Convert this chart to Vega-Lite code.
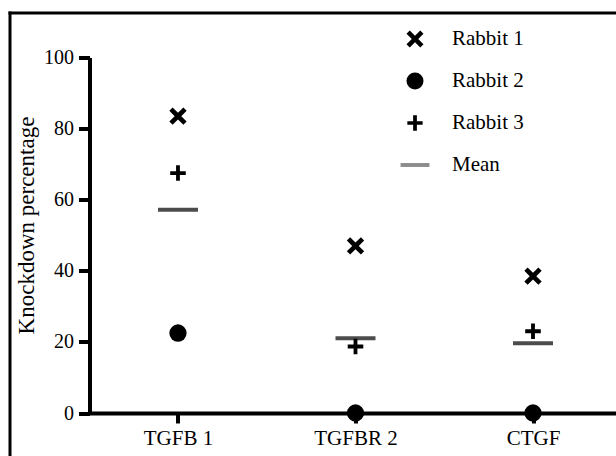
{
  "$schema": "https://vega.github.io/schema/vega-lite/v6.json",
  "width": 606.5,
  "height": 443.5,
  "autosize": {"type": "none"},
  "padding": {"left": 9.5, "top": 12.5, "right": 0, "bottom": 0},
  "background": "white",
  "config": {
    "view": {"stroke": null},
    "font": "Times New Roman, Liberation Serif, serif",
    "axis": {"labelFont": "Times New Roman, Liberation Serif, serif", "titleFont": "Times New Roman, Liberation Serif, serif"},
    "legend": {"labelFont": "Times New Roman, Liberation Serif, serif"}
  },
  "data": {
    "values": [
      {"gene": "TGFB 1", "series": "Rabbit 1", "value": 83.5},
      {"gene": "TGFB 1", "series": "Rabbit 2", "value": 22.5},
      {"gene": "TGFB 1", "series": "Rabbit 3", "value": 67.5},
      {"gene": "TGFB 1", "series": "Mean", "value": 57.2},
      {"gene": "TGFBR 2", "series": "Rabbit 1", "value": 47},
      {"gene": "TGFBR 2", "series": "Rabbit 2", "value": 0},
      {"gene": "TGFBR 2", "series": "Rabbit 3", "value": 18.7},
      {"gene": "TGFBR 2", "series": "Mean", "value": 21},
      {"gene": "CTGF", "series": "Rabbit 1", "value": 38.5},
      {"gene": "CTGF", "series": "Rabbit 2", "value": 0},
      {"gene": "CTGF", "series": "Rabbit 3", "value": 23},
      {"gene": "CTGF", "series": "Mean", "value": 19.6}
    ]
  },
  "layer": [
    {
      "encoding": {
        "x": {
          "field": "gene",
          "type": "nominal",
          "sort": ["TGFB 1", "TGFBR 2", "CTGF"],
          "scale": {"type": "point", "range": [80, 606.5], "padding": 0.483, "align": 0.516},
          "axis": {
            "title": null,
            "orient": "bottom",
            "offset": -43,
            "domainColor": "black",
            "domainWidth": 4,
            "tickColor": "black",
            "tickWidth": 4,
            "tickSize": 10,
            "labelFontSize": 21,
            "labelColor": "black",
            "labelPadding": 4,
            "labelAngle": 0,
            "grid": false
          }
        },
        "y": {
          "field": "value",
          "type": "quantitative",
          "scale": {"domain": [0, 100], "range": [400.5, 45], "nice": false},
          "axis": {
            "orient": "left",
            "offset": -80,
            "values": [0, 20, 40, 60, 80, 100],
            "domainColor": "black",
            "domainWidth": 4,
            "tickColor": "black",
            "tickWidth": 4,
            "tickSize": 11,
            "labelFontSize": 20,
            "labelColor": "black",
            "labelPadding": 5,
            "grid": false,
            "title": "Knockdown percentage",
            "titleFontSize": 23,
            "titleFontWeight": "normal",
            "titleColor": "black",
            "titlePadding": 5,
            "titleY": 212.5
          }
        }
      },
      "layer": [
        {
          "transform": [{"filter": "datum.series !== 'Mean'"}],
          "mark": {"type": "point", "filled": true, "opacity": 1, "size": 300},
          "encoding": {
            "shape": {
              "field": "series",
              "type": "nominal",
              "scale": {
                "domain": ["Rabbit 1", "Rabbit 2", "Rabbit 3", "Mean"],
                "range": [
                  "M-1,-0.62L-0.62,-1L0,-0.38L0.62,-1L1,-0.62L0.38,0L1,0.62L0.62,1L0,0.38L-0.62,1L-1,0.62L-0.38,0Z",
                  "circle",
                  "M-0.22,-0.9H0.22V-0.22H0.9V0.22H0.22V0.9H-0.22V0.22H-0.9V-0.22H-0.22Z",
                  "M-1.7,-0.23H1.7V0.23H-1.7Z"
                ]
              },
              "legend": {
                "title": null,
                "orient": "none",
                "legendX": 395,
                "legendY": 16,
                "symbolSize": 289,
                "symbolOpacity": 1,
                "symbolStrokeWidth": 0,
                "labelFontSize": 21,
                "labelColor": "black",
                "labelOffset": 26.5,
                "rowPadding": 20,
                "padding": 0
              }
            },
            "color": {
              "field": "series",
              "type": "nominal",
              "scale": {
                "domain": ["Rabbit 1", "Rabbit 2", "Rabbit 3", "Mean"],
                "range": ["black", "black", "black", "#8c8c8c"]
              },
              "legend": {
                "title": null,
                "orient": "none",
                "legendX": 395,
                "legendY": 16,
                "symbolSize": 289,
                "symbolOpacity": 1,
                "symbolStrokeWidth": 0,
                "labelFontSize": 21,
                "labelColor": "black",
                "labelOffset": 26.5,
                "rowPadding": 20,
                "padding": 0
              }
            }
          }
        },
        {
          "transform": [{"filter": "datum.series === 'Mean'"}],
          "mark": {"type": "tick", "color": "black", "size": 40, "thickness": 4}
        }
      ]
    },
    {
      "mark": {"type": "point", "opacity": 0},
      "encoding": {
        "x": {
          "field": "gene",
          "type": "nominal",
          "axis": {"orient": "top", "title": null, "labels": false, "ticks": false, "grid": false, "domainColor": "black", "domainWidth": 3, "domainCap": "square"}
        },
        "y": {
          "field": "value",
          "type": "quantitative",
          "axis": {"orient": "left", "offset": 0, "title": null, "labels": false, "ticks": false, "grid": false, "domainColor": "black", "domainWidth": 3, "domainCap": "square"}
        }
      }
    }
  ],
  "resolve": {"scale": {"x": "independent", "y": "independent"}, "axis": {"x": "independent", "y": "independent"}}
}
